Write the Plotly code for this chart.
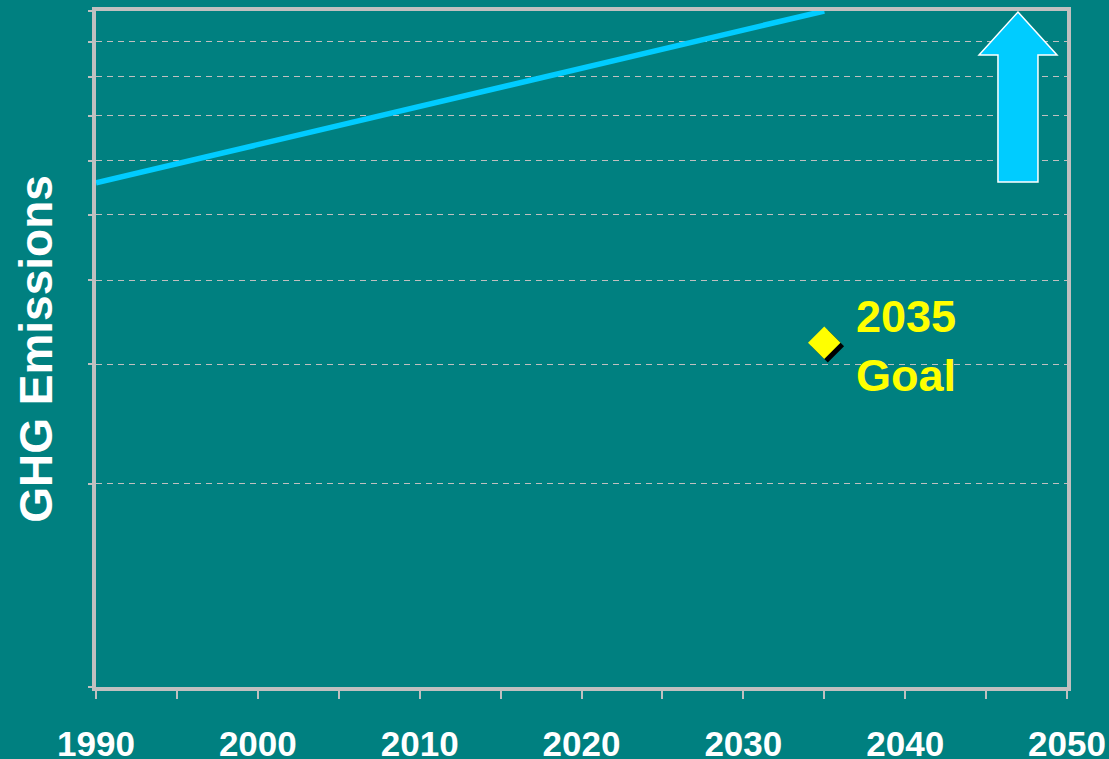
import plotly.graph_objects as go
import math

# ---- data ----
years = [1990, 2035]
emissions = [5.57, 10.0]          # log-scaled trend line (relative units)
goal_year = [2035]
goal_value = [3.23]
goal_label = "2035<br>Goal"
x_tickvals = list(range(1990, 2051, 5))
x_ticktext = [str(v) if v % 10 == 0 else "" for v in x_tickvals]
y_tickvals = [1, 2, 3, 4, 5, 6, 7, 8, 9, 10]

BG = "#008080"
GRAY = "#c0c0c0"
FONT = "Arial, Liberation Sans, sans-serif"

W, H = 1109, 759
ML, MR, MT, MB = 96, 42, 11, 72
PW, PH = W - ML - MR, H - MT - MB

fig = go.Figure()

fig.add_trace(go.Scatter(
    x=years, y=emissions, mode="lines",
    line=dict(color="#00ccff", width=5.5),
    cliponaxis=False, showlegend=False, hoverinfo="skip"))

# shadow for goal marker (small offset right/down)
fig.add_trace(go.Scatter(
    x=[g + 0.22 for g in goal_year],
    y=[v * 10 ** (-3.5 / PH) for v in goal_value],
    mode="markers",
    marker=dict(symbol="diamond", size=25, color="black", line=dict(width=0)),
    showlegend=False, hoverinfo="skip"))

fig.add_trace(go.Scatter(
    x=goal_year, y=goal_value, mode="markers",
    marker=dict(symbol="diamond", size=25, color="#ffff00", line=dict(width=0)),
    showlegend=False))

fig.add_annotation(
    x=goal_year[0], y=math.log10(goal_value[0]), xref="x", yref="y",
    text=goal_label, showarrow=False, xanchor="left", yanchor="middle",
    xshift=30, yshift=-3, align="left",
    font=dict(family=FONT, size=45, color="#ffff00", weight="bold"))

# up arrow (decoration) in paper coords from pixel layout
def px(xp, yp):
    return (xp - ML) / PW, (H - MB - yp) / PH

pts = [(1018, 12), (1057, 55), (1038, 55), (1038, 182),
       (998, 182), (998, 55), (979, 55)]
path = "M " + " L ".join("%.4f,%.4f" % px(a, b) for a, b in pts) + " Z"
fig.add_shape(type="path", path=path, xref="paper", yref="paper",
              fillcolor="#00ccff", line=dict(color="white", width=1.5))

fig.update_layout(
    width=W, height=H,
    margin=dict(l=ML, r=MR, t=MT, b=MB, autoexpand=False),
    paper_bgcolor=BG, plot_bgcolor=BG,
    font=dict(family=FONT, color="white"),
    xaxis=dict(
        range=[1990, 2050], tickmode="array", tickvals=x_tickvals,
        ticktext=x_ticktext, ticks="outside", ticklen=8, tickwidth=1.5,
        tickcolor=GRAY, showgrid=False, zeroline=False,
        showline=True, linecolor=GRAY, linewidth=4, mirror=True,
        tickfont=dict(family=FONT, size=35, color="white", weight="bold"),
        ticklabelstandoff=15),
    yaxis=dict(
        type="log", range=[0, 1], tickmode="array", tickvals=y_tickvals,
        showticklabels=False, ticks="outside", ticklen=4, tickwidth=1.5,
        tickcolor=GRAY, showgrid=True, gridcolor=GRAY, gridwidth=1,
        griddash="6px,5px", zeroline=False,
        showline=True, linecolor=GRAY, linewidth=4, mirror=True,
        title=dict(text="<b>GHG Emissions</b>", standoff=22,
                   font=dict(family=FONT, size=46, color="white"))),
)

fig.write_html("out.html", config={"displayModeBar": False},
               post_script="document.body.style.margin='0';document.body.style.overflow='hidden';")
